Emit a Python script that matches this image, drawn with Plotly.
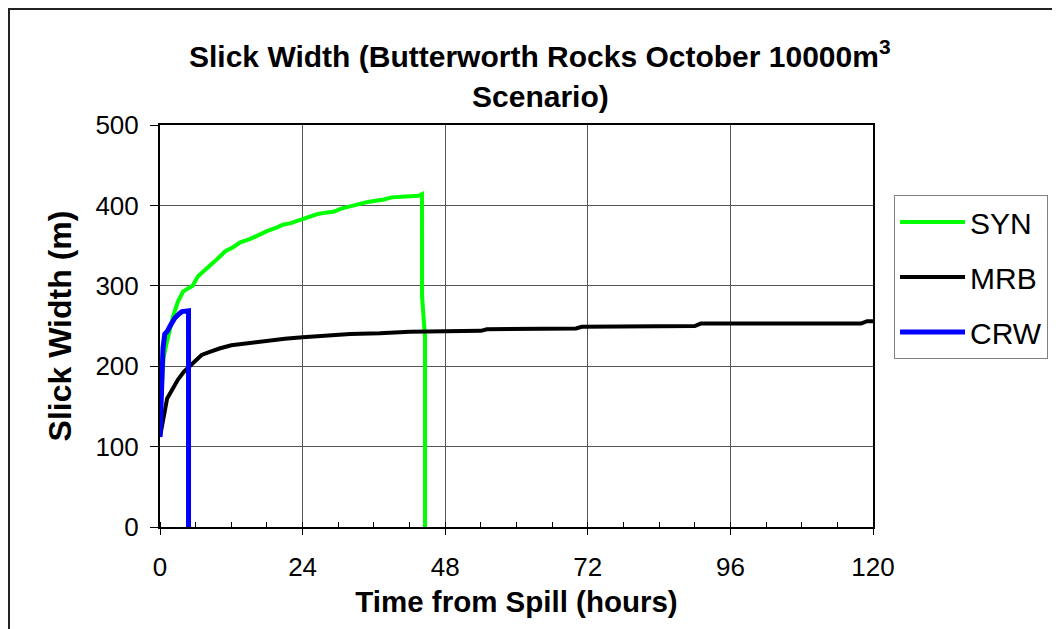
import plotly.graph_objects as go

# ---- data (hours, metres) ----
syn_t = [0, 0.3, 0.6, 1.0, 1.5, 2.2, 3.0, 3.9, 5.0, 5.5, 6.4, 7.5, 8.5, 9.6, 11.0, 12.3, 13.5,
         15.1, 16.5, 18.0, 19.5, 20.7, 22.0, 23.5, 25.0, 26.4, 27.8, 29.2, 30.5, 32.0, 33.5,
         34.8, 36.5, 37.5, 39.0, 40.4, 42.0, 43.5, 44.1, 44.1, 44.6, 44.6]
syn_v = [140, 185, 210, 225, 240, 262, 280, 293, 298, 300, 312, 320, 326, 333, 343, 348, 354,
         358, 363, 368, 372, 376, 378, 382, 386, 389, 391, 392, 396, 399, 401,
         404, 406, 407, 410, 411, 411, 412, 414, 287, 237, 0]

mrb_t = [0, 0.5, 1.2, 2.0, 3.0, 4.0, 5.0, 6.0, 7.0, 8.5, 10, 12, 14, 16, 18, 21, 24, 28, 32,
         37, 42, 54, 55, 70, 71, 90, 91, 118, 119, 120]
mrb_v = [112, 135, 160, 170, 183, 193, 200, 208, 214, 218, 222, 226, 228, 230, 232, 234, 236,
         238, 240, 241, 243, 244, 246, 247, 249, 250, 253, 253, 256, 256]

crw_t = [0, 0.3, 0.5, 0.8, 1.2, 1.7, 2.5, 3.2, 3.7, 4.8, 4.8]
crw_v = [112, 190, 222, 240, 243, 250, 260, 265, 268, 269, 0]

series_names = ["SYN", "MRB", "CRW"]
series_colors = ["#00FF00", "#000000", "#0000FF"]
series_widths = [4, 4, 5]

x_ticks = [0, 24, 48, 72, 96, 120]
y_ticks = [0, 100, 200, 300, 400, 500]

FONT = "Liberation Sans, Arial, sans-serif"

fig = go.Figure()
for (t, v), name, col, w in zip([(syn_t, syn_v), (mrb_t, mrb_v), (crw_t, crw_v)],
                                series_names, series_colors, series_widths):
    fig.add_trace(go.Scatter(x=t, y=v, mode="lines", name=name, legendgroup=name,
                             line=dict(color=col, width=w)))

# page body has an 8px default margin, so the figure is 8px smaller than the window
fig.update_layout(
    width=1052, height=621,
    margin=dict(l=152, r=187, t=117, b=102),
    paper_bgcolor="white", plot_bgcolor="white",
    font=dict(family=FONT, color="black"),
    showlegend=True,
    legend=dict(x=1.0295, y=0.826, xanchor="left", yanchor="top",
                bordercolor="#808080", borderwidth=1, bgcolor="white",
                font=dict(size=30, family=FONT), traceorder="grouped",
                tracegroupgap=13, itemwidth=65),
    xaxis=dict(range=[0, 120], tickvals=x_ticks, ticks="outside", ticklen=6,
               tickwidth=1, tickcolor="black", ticklabelstandoff=10,
               showline=True, linecolor="black", linewidth=2, mirror=True,
               showgrid=True, gridcolor="#555555", gridwidth=1, zeroline=False,
               tickfont=dict(size=26),
               minor=dict(dtick=6, ticks="inside", ticklen=5, tickcolor="black", showgrid=False),
               title=dict(text="<b>Time from Spill (hours)</b>", font=dict(size=29.5), standoff=10)),
    yaxis=dict(range=[0, 500], tickvals=y_ticks, ticks="outside", ticklen=8,
               tickwidth=1, tickcolor="black", ticklabelstandoff=6,
               showline=True, linecolor="black", linewidth=2, mirror=True,
               showgrid=True, gridcolor="#555555", gridwidth=1, zeroline=False,
               tickfont=dict(size=26),
               title=dict(text="<b>Slick Width (m)</b>", font=dict(size=32), standoff=14)),
)

fig.add_annotation(text="<b>Slick Width (Butterworth Rocks October 10000m<sup>3</sup></b>",
                   xref="paper", yref="paper", x=0.533, y=1.1766, xanchor="center",
                   yanchor="middle", showarrow=False, font=dict(size=30, family=FONT))
fig.add_annotation(text="<b>Scenario)</b>",
                   xref="paper", yref="paper", x=0.533, y=1.0697, xanchor="center",
                   yanchor="middle", showarrow=False, font=dict(size=30, family=FONT))

# outer chart-area border (extends beyond the right/bottom edges of the picture)
fig.add_shape(type="rect", xref="paper", yref="paper", x0=-0.2118, y0=-0.5, x1=1.6, y1=1.2886,
              line=dict(color="#222222", width=2), fillcolor="rgba(0,0,0,0)", layer="below")

fig.write_html("out.html")
